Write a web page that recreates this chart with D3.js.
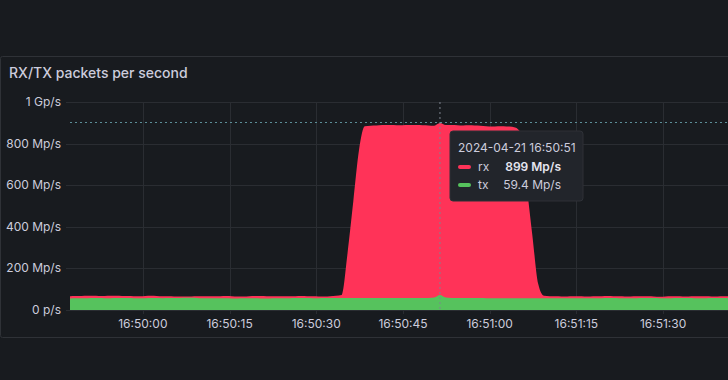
<!DOCTYPE html>
<html>
<head>
<meta charset="utf-8">
<script src="https://cdn.jsdelivr.net/npm/d3@7"></script>
<style>
  html, body { margin: 0; padding: 0; background: #181b1f; }
  svg { display: block; font-family: Inter, "Noto Sans", sans-serif; }
</style>
</head>
<body>
<svg id="chart" width="728" height="380"></svg>
<script>
// one sample per second, starting 16:49:47.4
const startTime = new Date(2024, 3, 21, 16, 49, 47, 400);
const rxValues = [
    66, 67, 67, 68, 68, 67, 67, 68, 68, 67, 67, 66, 66, 67, 68, 67, 66, 66, 65, 65,
    65, 65, 66, 66, 66, 66, 66, 67, 66, 65, 65, 66, 67, 67, 66, 66, 66, 66, 66, 66,
    67, 66, 66, 65, 65, 66, 68,
    72, 270, 520, 770, 884,
    886, 887, 889, 890, 889, 888, 889, 890, 889, 888, 887, 886,
    899,
    889, 889, 888, 887, 888, 887, 886, 884, 882, 883, 884, 882, 878,
    850, 600, 355, 125, 68,
    66, 66, 65, 65, 66, 66, 65, 65, 66, 66, 67, 66, 66, 65, 65, 66, 66, 66, 65, 64,
    65, 66, 66, 65, 65, 66, 66, 66, 65, 65, 66, 66
];
const txValues = [
    55, 56, 57, 57, 58, 58, 57, 57, 58, 58, 58, 57, 57, 57, 58, 58, 57, 58, 58, 58,
    59, 59, 58, 57, 57, 56, 56, 56, 55, 55, 56, 56, 56, 55, 55, 56, 57, 57, 57, 58,
    58, 58, 57, 57, 58, 58, 58,
    58, 58, 58, 58, 58,
    58, 58, 58, 58, 58, 58, 58, 58, 58, 58, 58, 60,
    72,
    60, 58, 58, 58, 58, 58, 58, 57, 57, 57, 57, 57, 57,
    57, 57, 57, 57, 57,
    57, 57, 56, 56, 56, 56, 57, 57, 57, 57, 58, 58, 57, 57, 57, 57, 58, 58, 58, 57,
    57, 57, 58, 58, 58, 57, 57, 57, 58, 58, 58, 58
];
const yTickValues = [0, 200, 400, 600, 800, 1000];
const yTickLabels = ['0 p/s', '200 Mp/s', '400 Mp/s', '600 Mp/s', '800 Mp/s', '1 Gp/s'];
const hoverIndex = 64;
const tooltipTime = '2024-04-21 16:50:51';
const tooltipRows = [
    { name: 'rx', value: '899 Mp/s', color: '#ff3358', bold: true },
    { name: 'tx', value: '59.4 Mp/s', color: '#56c25d', bold: false }
];

const times = rxValues.map((v, i) => new Date(startTime.getTime() + i * 1000));
const rxData = rxValues.map((v, i) => ({ t: times[i], v: v }));
const txData = txValues.map((v, i) => ({ t: times[i], v: v }));

const svg = d3.select('#chart');
const plotLeft = 70, plotRight = 729, plotTop = 102, plotBottom = 310;

const xScale = d3.scaleTime()
    .domain([times[0], times[times.length - 1]])
    .range([plotLeft, plotRight]);
const yScale = d3.scaleLinear().domain([0, 1000]).range([plotBottom, plotTop]);

// panel frame
svg.append('rect')
    .attr('x', 0.5).attr('y', 56.5)
    .attr('width', 740).attr('height', 281)
    .attr('rx', 2)
    .attr('fill', '#181b1f')
    .attr('stroke', '#2f3237');

svg.append('text')
    .attr('x', 9).attr('y', 78)
    .attr('fill', '#ccccdc')
    .attr('font-size', 14)
    .attr('font-weight', 500)
    .text('RX/TX packets per second');

// grid
svg.append('g')
    .selectAll('line')
    .data(yTickValues)
    .join('line')
    .attr('x1', 66).attr('x2', 728)
    .attr('y1', d => Math.round(yScale(d)) + 0.5)
    .attr('y2', d => Math.round(yScale(d)) + 0.5)
    .attr('stroke', '#2a2d32');

const xTicks = xScale.ticks(d3.timeSecond.every(15));
svg.append('g')
    .selectAll('line')
    .data(xTicks)
    .join('line')
    .attr('x1', d => Math.round(xScale(d)) + 0.5)
    .attr('x2', d => Math.round(xScale(d)) + 0.5)
    .attr('y1', plotTop).attr('y2', plotBottom + 4)
    .attr('stroke', '#2a2d32');

// y labels
svg.append('g')
    .selectAll('text')
    .data(yTickValues)
    .join('text')
    .attr('x', 61)
    .attr('y', d => yScale(d) + 4)
    .attr('text-anchor', 'end')
    .attr('fill', '#ccccdc')
    .attr('font-size', 12)
    .text((d, i) => yTickLabels[i]);

// x labels
const fmt = d3.timeFormat('%H:%M:%S');
svg.append('g')
    .selectAll('text')
    .data(xTicks)
    .join('text')
    .attr('x', d => xScale(d))
    .attr('y', 328)
    .attr('text-anchor', 'middle')
    .attr('fill', '#ccccdc')
    .attr('font-size', 12)
    .text(d => fmt(d));

// series
svg.append('clipPath').attr('id', 'plotclip')
    .append('rect')
    .attr('x', plotLeft).attr('y', 0)
    .attr('width', 728 - plotLeft).attr('height', plotBottom);

const area = d3.area()
    .x(d => xScale(d.t))
    .y0(yScale(0))
    .y1(d => yScale(d.v))
    .curve(d3.curveMonotoneX);

const series = svg.append('g').attr('clip-path', 'url(#plotclip)');
series.append('path').datum(rxData).attr('d', area).attr('fill', '#ff3358');
series.append('path').datum(txData).attr('d', area).attr('fill', '#56c25d');

// crosshair
const hx = xScale(times[hoverIndex]);
svg.append('line')
    .attr('x1', hx).attr('x2', hx)
    .attr('y1', plotTop).attr('y2', plotBottom)
    .attr('stroke', '#7d8490')
    .attr('stroke-dasharray', '2,3');
svg.append('line')
    .attr('x1', plotLeft).attr('x2', 728)
    .attr('y1', 122.5).attr('y2', 122.5)
    .attr('stroke', '#5c8e98')
    .attr('stroke-dasharray', '2,3');

// tooltip
const tip = svg.append('g').attr('transform', 'translate(450,131)');
tip.append('rect')
    .attr('width', 133).attr('height', 70)
    .attr('rx', 3)
    .attr('fill', '#22252b')
    .attr('stroke', '#2e3137');
tip.append('text')
    .attr('x', 8).attr('y', 21)
    .attr('fill', '#ccccdc')
    .attr('font-size', 12)
    .text(tooltipTime);
const row = tip.selectAll('g.row')
    .data(tooltipRows)
    .join('g')
    .attr('class', 'row')
    .attr('transform', (d, i) => `translate(0,${36 + i * 18})`);
row.append('rect')
    .attr('x', 8).attr('y', -2)
    .attr('width', 13).attr('height', 4)
    .attr('rx', 2)
    .attr('fill', d => d.color);
row.append('text')
    .attr('x', 28).attr('y', 4)
    .attr('fill', '#ccccdc')
    .attr('font-size', 12)
    .text(d => d.name);
row.append('text')
    .attr('x', 111).attr('y', 4)
    .attr('text-anchor', 'end')
    .attr('fill', d => d.bold ? '#e6e6f0' : '#ccccdc')
    .attr('font-size', 12)
    .attr('font-weight', d => d.bold ? 600 : 400)
    .text(d => d.value);
</script>
</body>
</html>
